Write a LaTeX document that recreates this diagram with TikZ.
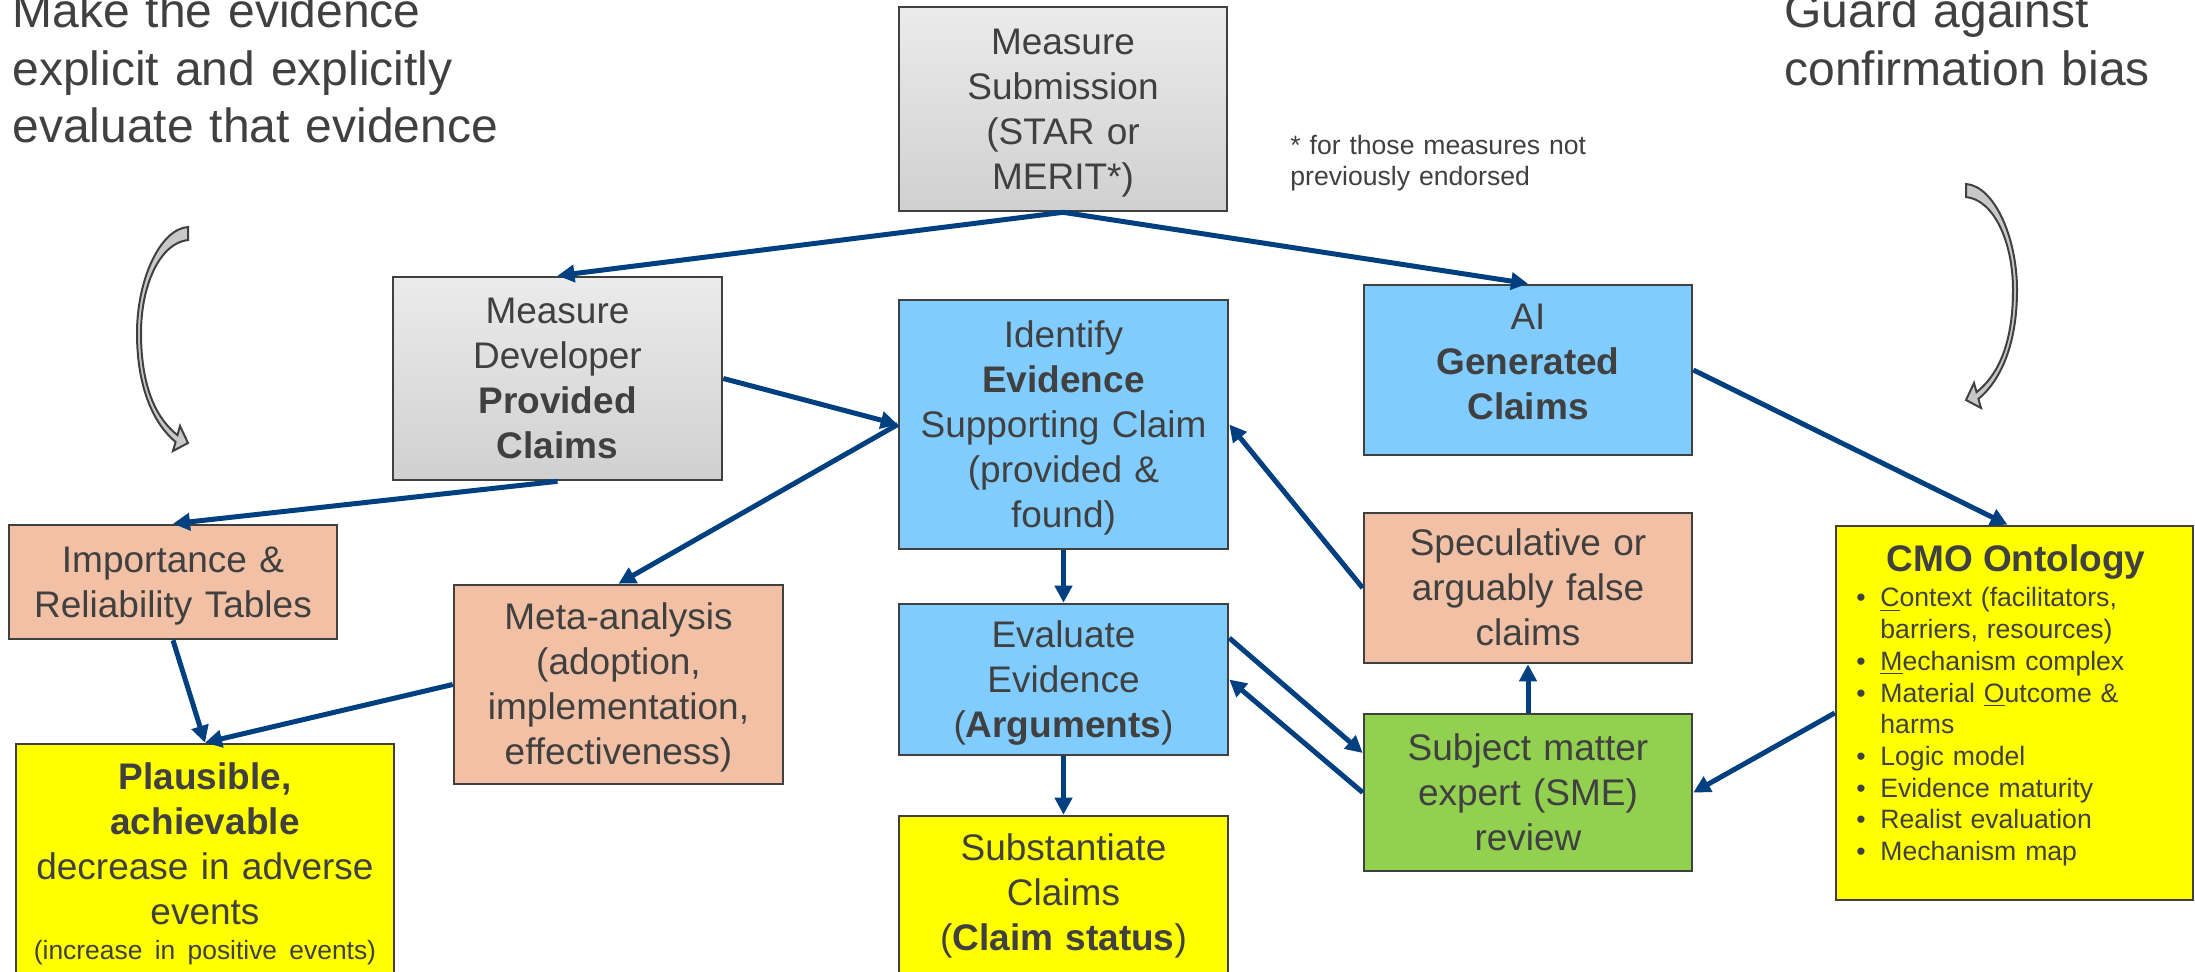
\documentclass[tikz,border=0pt]{standalone}
\usepackage{fontspec}
\setmainfont{Liberation Sans}
\usetikzlibrary{arrows.meta,calc}

\definecolor{txtgray}{HTML}{404040}
\definecolor{edgegray}{HTML}{404040}
\definecolor{navy}{HTML}{004080}
\definecolor{skyblue}{HTML}{80CCFF}
\definecolor{salmon}{HTML}{F2C0A4}
\definecolor{lemon}{HTML}{FFFF00}
\definecolor{leaf}{HTML}{92D050}
\definecolor{greytop}{HTML}{EBEBEB}
\definecolor{greybot}{HTML}{D0D0D0}
\definecolor{swoopfill}{HTML}{C8C8C8}

\newcommand\boxfont{\fontsize{18.5}{22.5}\selectfont}
\newcommand\notefont{\fontsize{13.3}{15.5}\selectfont}
\newcommand\listfont{\fontsize{13.3}{15.85}\selectfont}
\newcommand\headfont{\fontsize{24}{28.6}\selectfont}
\newcommand\topstrut{\rule{0pt}{17.75pt}}
\newcommand\botstrut{\rule[-4.75pt]{0pt}{4.75pt}}
\newcommand\deep[1]{\rule[-#1]{0pt}{#1}}
\newcommand\bul{\makebox[12pt][l]{\textbullet}}
\newcommand\ind{\hspace*{12pt}}

\tikzset{
  box/.style 2 args={draw=edgegray, line width=1.3pt, inner sep=0pt,
    minimum width=#1*0.5pt, minimum height=#2*0.5pt,
    text width=#1*0.5pt-12pt, align=center, font=\boxfont, text=txtgray,
    execute at begin node=\topstrut, execute at end node=\botstrut},
  greybox/.style={top color=greytop, bottom color=greybot},
  bluebox/.style={fill=skyblue},
  salmonbox/.style={fill=salmon},
  yellowbox/.style={fill=lemon},
  greenbox/.style={fill=leaf},
  conn/.style={draw=navy, line width=2.5pt, -{Triangle[length=8.5pt, width=8.5pt]}},
  headline/.style={anchor=base west, align=left, font=\headfont, text=txtgray, inner sep=0pt},
  swoop/.pic={
    \draw[draw=edgegray, fill=swoopfill, line width=1pt, line join=miter]
      (0,0) .. controls (-28,2) and (-51,53) .. (-51,106)
      .. controls (-51,163) and (-33,198) .. (-12.4,214.9)
      -- (-15,224) -- (0,216) -- (-8,199) -- (-10.5,208.1)
      .. controls (-30,193) and (-47,163) .. (-47,106)
      .. controls (-47,58) and (-28,16) .. (0,13) -- cycle;
  },
}

\begin{document}
\begin{tikzpicture}[x=0.5pt, y=-0.5pt]
\useasboundingbox (0,0) rectangle (2195,972);
\clip (0,0) rectangle (2195,972);

% headlines
\node[headline, text width=300pt] (goalL) at (12,28)
  {Make the evidence\\explicit and explicitly\\evaluate that evidence};
\node[headline, text width=200pt] (goalR) at (1784,28)
  {Guard against\\confirmation bias};

% curved block arrows under the headlines
\pic (swoopL) at (188,227) {swoop};
\pic[xscale=-1] (swoopR) at (1966,184) {swoop};

% footnote
\node[anchor=base west, align=left, font=\notefont, text=txtgray, inner sep=0pt, text width=170pt]
  (note) at (1290,155) {* for those measures not\\previously endorsed};

% process boxes
\node[box={328}{204}, greybox] (ms) at (1063,109)
  {Measure\\Submission\\(STAR or\\MERIT*)};
\node[box={329}{203}, greybox] (md) at (557.5,378.5)
  {Measure\\Developer\\\textbf{Provided}\\\textbf{Claims}};
\node[box={329}{249}, bluebox] (ie) at (1063.5,424.5)
  {Identify\\\textbf{Evidence}\\Supporting Claim\\(provided \&\\found)};
\node[box={328}{170}, bluebox] (ai) at (1528,370)
  {AI\\\textbf{Generated}\\\textbf{Claims}\deep{12.75pt}};
\node[box={328}{114}, salmonbox] (irt) at (173,582)
  {Importance \&\\Reliability Tables};
\node[box={329}{199}, salmonbox] (ma) at (618.5,684.5)
  {Meta-analysis\\(adoption,\\implementation,\\effectiveness)};
\node[box={328}{150}, salmonbox] (sp) at (1528,588)
  {Speculative or\\arguably false\\claims};
\node[box={329}{151}, bluebox] (ee) at (1063.5,679.5)
  {Evaluate\\Evidence\\(\textbf{Arguments})};
\node[box={328}{157}, greenbox] (sme) at (1528,792.5)
  {Subject matter\\expert (SME)\\review};
\node[box={329}{169}, yellowbox] (sc) at (1063.5,900.5)
  {Substantiate\\Claims\\(\textbf{Claim status})\deep{13.25pt}};
\node[box={378}{241}, yellowbox] (pl) at (205,864.5)
  {\textbf{Plausible,}\\\textbf{achievable}\\decrease in adverse\\events\\[-5pt]
   \mbox{\fontsize{13.2}{15}\selectfont(increase in positive events)}\deep{8.25pt}};

% CMO ontology panel
\node[box={357}{374}, yellowbox] (cmo) at (2014.5,713) {};
\node[anchor=base, font=\boxfont\bfseries, text=txtgray, inner sep=0pt]
  (cmotitle) at (2016,572) {CMO Ontology};
\node[anchor=base west, align=left, font=\listfont, text=txtgray, inner sep=0pt, text width=160pt]
  (cmolist) at (1856,607)
  {\bul\underline{C}ontext (facilitators,\\
   \ind barriers, resources)\\
   \bul\underline{M}echanism complex\\
   \bul Material \underline{O}utcome \&\\
   \ind harms\\
   \bul Logic model\\
   \bul Evidence maturity\\
   \bul Realist evaluation\\
   \bul Mechanism map};

% connectors
\draw[conn] (ms.south) -- (md.north);
\draw[conn] (ms.south) -- (ai.north);
\draw[conn] (md.east) -- (ie.west);
\draw[conn] (md.south) -- (irt.north);
\draw[conn] (ie.west) -- (ma.north);
\draw[conn] (ie.south) -- (ee.north);
\draw[conn] (ee.south) -- (sc.north);
\draw[conn] (irt.south) -- (pl.north);
\draw[conn] (ma.west) -- (pl.north);
\draw[conn] (sp.west) -- (ie.east);
\draw[conn] ($(ee.east)+(0,-41.5)$) -- ($(sme.west)+(0,-39.5)$);
\draw[conn] (sme.west) -- (ee.east);
\draw[conn] (sme.north) -- (sp.south);
\draw[conn] (ai.east) -- ($(cmo.north)+(-7,0)$);
\draw[conn] (cmo.west) -- (sme.east);
\end{tikzpicture}
\end{document}
